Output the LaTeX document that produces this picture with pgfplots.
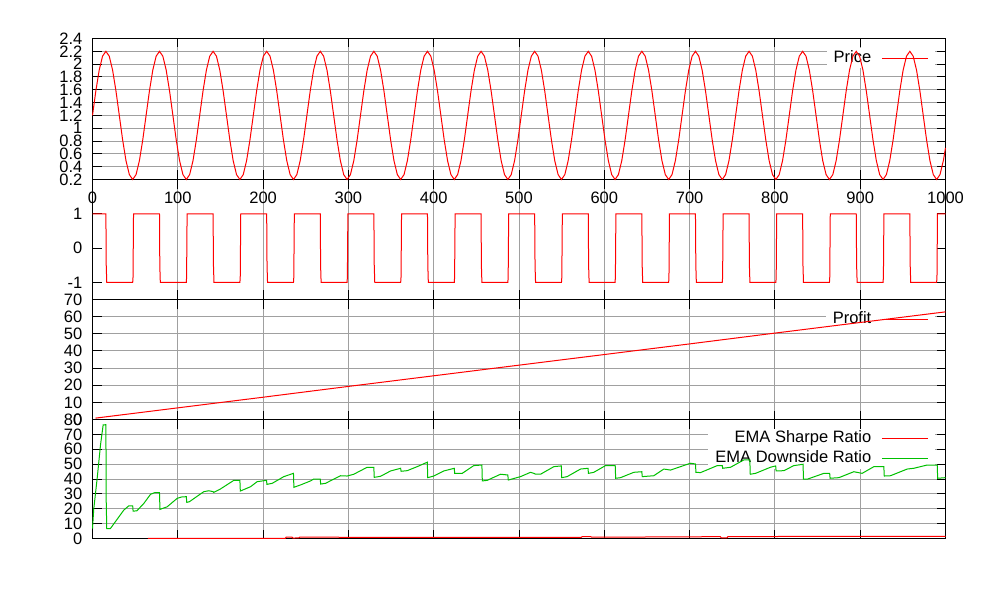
\documentclass[border=0pt]{standalone}
\usepackage{fontspec}
\setmainfont{Liberation Sans}
\usepackage{pgfplots}
\usepackage{pgfplotstable}
\pgfplotsset{compat=1.18}
\pagecolor{white}
\definecolor{gpred}{HTML}{FF0000}
\definecolor{gpgreen}{HTML}{00C000}
\definecolor{gpgrid}{HTML}{A0A0A0}
\newcommand{\gpfont}{\fontsize{16.5}{19}\selectfont}

% price: one row per sample, 16 samples per cycle
\pgfplotstableread{
x y
0 1.2
3.93 1.583
7.85 1.907
11.78 2.124
15.71 2.2
19.63 2.124
23.56 1.907
27.49 1.583
31.42 1.2
35.34 0.817
39.27 0.493
43.20 0.276
47.12 0.2
51.05 0.276
54.98 0.493
58.90 0.817
62.83 1.2
66.76 1.583
70.69 1.907
74.61 2.124
78.54 2.2
82.47 2.124
86.39 1.907
90.32 1.583
94.25 1.2
98.17 0.817
102.10 0.493
106.03 0.276
109.96 0.2
113.88 0.276
117.81 0.493
121.74 0.817
125.66 1.2
129.59 1.583
133.52 1.907
137.44 2.124
141.37 2.2
145.30 2.124
149.23 1.907
153.15 1.583
157.08 1.2
161.01 0.817
164.93 0.493
168.86 0.276
172.79 0.2
176.71 0.276
180.64 0.493
184.57 0.817
188.50 1.2
192.42 1.583
196.35 1.907
200.28 2.124
204.20 2.2
208.13 2.124
212.06 1.907
215.98 1.583
219.91 1.2
223.84 0.817
227.77 0.493
231.69 0.276
235.62 0.2
239.55 0.276
243.47 0.493
247.40 0.817
251.33 1.2
255.25 1.583
259.18 1.907
263.11 2.124
267.04 2.2
270.96 2.124
274.89 1.907
278.82 1.583
282.74 1.2
286.67 0.817
290.60 0.493
294.52 0.276
298.45 0.2
302.38 0.276
306.31 0.493
310.23 0.817
314.16 1.2
318.09 1.583
322.01 1.907
325.94 2.124
329.87 2.2
333.79 2.124
337.72 1.907
341.65 1.583
345.58 1.2
349.50 0.817
353.43 0.493
357.36 0.276
361.28 0.2
365.21 0.276
369.14 0.493
373.06 0.817
376.99 1.2
380.92 1.583
384.85 1.907
388.77 2.124
392.70 2.2
396.63 2.124
400.55 1.907
404.48 1.583
408.41 1.2
412.33 0.817
416.26 0.493
420.19 0.276
424.12 0.2
428.04 0.276
431.97 0.493
435.90 0.817
439.82 1.2
443.75 1.583
447.68 1.907
451.60 2.124
455.53 2.2
459.46 2.124
463.38 1.907
467.31 1.583
471.24 1.2
475.17 0.817
479.09 0.493
483.02 0.276
486.95 0.2
490.87 0.276
494.80 0.493
498.73 0.817
502.65 1.2
506.58 1.583
510.51 1.907
514.44 2.124
518.36 2.2
522.29 2.124
526.22 1.907
530.14 1.583
534.07 1.2
538.00 0.817
541.92 0.493
545.85 0.276
549.78 0.2
553.71 0.276
557.63 0.493
561.56 0.817
565.49 1.2
569.41 1.583
573.34 1.907
577.27 2.124
581.19 2.2
585.12 2.124
589.05 1.907
592.98 1.583
596.90 1.2
600.83 0.817
604.76 0.493
608.68 0.276
612.61 0.2
616.54 0.276
620.46 0.493
624.39 0.817
628.32 1.2
632.25 1.583
636.17 1.907
640.10 2.124
644.03 2.2
647.95 2.124
651.88 1.907
655.81 1.583
659.73 1.2
663.66 0.817
667.59 0.493
671.52 0.276
675.44 0.2
679.37 0.276
683.30 0.493
687.22 0.817
691.15 1.2
695.08 1.583
699.00 1.907
702.93 2.124
706.86 2.2
710.79 2.124
714.71 1.907
718.64 1.583
722.57 1.2
726.49 0.817
730.42 0.493
734.35 0.276
738.27 0.2
742.20 0.276
746.13 0.493
750.06 0.817
753.98 1.2
757.91 1.583
761.84 1.907
765.76 2.124
769.69 2.2
773.62 2.124
777.54 1.907
781.47 1.583
785.40 1.2
789.33 0.817
793.25 0.493
797.18 0.276
801.11 0.2
805.03 0.276
808.96 0.493
812.89 0.817
816.81 1.2
820.74 1.583
824.67 1.907
828.60 2.124
832.52 2.2
836.45 2.124
840.38 1.907
844.30 1.583
848.23 1.2
852.16 0.817
856.08 0.493
860.01 0.276
863.94 0.2
867.87 0.276
871.79 0.493
875.72 0.817
879.65 1.2
883.57 1.583
887.50 1.907
891.43 2.124
895.35 2.2
899.28 2.124
903.21 1.907
907.13 1.583
911.06 1.2
914.99 0.817
918.92 0.493
922.84 0.276
926.77 0.2
930.70 0.276
934.62 0.493
938.55 0.817
942.48 1.2
946.41 1.583
950.33 1.907
954.26 2.124
958.19 2.2
962.11 2.124
966.04 1.907
969.97 1.583
973.89 1.2
977.82 0.817
981.75 0.493
985.68 0.276
989.60 0.2
993.53 0.276
997.46 0.493
1000 0.694
}\price

% position signal: +1 while price rises, -1 while it falls
\pgfplotstableread{
x y
0 1
15.71 1
16.1 -0.5
16.7 -1
47.12 -1
47.5 -0.85
48.1 1
78.54 1
78.9 -0.5
79.5 -1
109.96 -1
110.3 -0.85
110.9 1
141.37 1
141.8 -0.5
142.4 -1
172.79 -1
173.2 -0.85
173.8 1
204.20 1
204.6 -0.5
205.2 -1
235.62 -1
236.0 -0.85
236.6 1
267.04 1
267.4 -0.5
268.0 -1
298.45 -1
298.8 -0.85
299.4 1
329.87 1
330.3 -0.5
330.9 -1
361.28 -1
361.7 -0.85
362.3 1
392.70 1
393.1 -0.5
393.7 -1
424.12 -1
424.5 -0.85
425.1 1
455.53 1
455.9 -0.5
456.5 -1
486.95 -1
487.3 -0.85
487.9 1
518.36 1
518.8 -0.5
519.4 -1
549.78 -1
550.2 -0.85
550.8 1
581.19 1
581.6 -0.5
582.2 -1
612.61 -1
613.0 -0.85
613.6 1
644.03 1
644.4 -0.5
645.0 -1
675.44 -1
675.8 -0.85
676.4 1
706.86 1
707.3 -0.5
707.9 -1
738.27 -1
738.7 -0.85
739.3 1
769.69 1
770.1 -0.5
770.7 -1
801.11 -1
801.5 -0.85
802.1 1
832.52 1
832.9 -0.5
833.5 -1
863.94 -1
864.3 -0.85
864.9 1
895.35 1
895.8 -0.5
896.4 -1
926.77 -1
927.2 -0.85
927.8 1
958.19 1
958.6 -0.5
959.2 -1
989.60 -1
990.0 -0.85
990.6 1
1000 1
}\signal

\pgfplotstableread{
x y
3.5 0.8
100 6.8
200 13.0
300 19.3
400 25.5
500 31.7
600 37.9
700 44.1
800 50.4
900 56.6
1000 62.8
}\profit

\pgfplotstableread{
x y
64.9 0.1
226 0.1
227 0.9
234 0.9
235 0.3
242 0.4
243 0.9
400 0.7
573 0.7
574 1.3
584 1.3
585 0.9
700 1.1
736 1.3
737 0.5
744 0.5
745 1.3
1000 1.5
}\sharpe

\pgfplotstableread{
x y
0 6.7
1.5 20
5.5 40.5
9.4 63
12.5 76.4
15.7 76.5
16.1 24.7
16.7 6.7
21 6.7
36.7 19.1
42.6 22
47.1 22
47.6 18.4
52 18.6
60.2 23.6
68 29.7
72.7 30.8
78.5 30.8
79.1 19.6
87.5 21.3
99.3 27
105 28
110 28.1
110.5 24.3
113.5 24.7
130.5 31.5
136.4 32.1
141.4 31.5
142.2 31.0
150 33.3
165.7 39.1
172.8 39.1
173.3 31.9
185.2 34.8
193 38.2
204 39.1
204.5 36.4
210.7 37.1
224.3 41.6
235.6 43.8
236.1 34.4
243.8 36
255.6 38.7
259.4 40
267 40
267.5 36.6
273.2 37.1
290.7 42.2
298.5 42
306.3 43.2
322 47.9
329.8 47.9
330.3 41.1
337.6 41.8
349.4 45.4
361.2 47.2
361.8 45.2
368.9 45.6
380.6 48.3
392.5 51.3
393 40.9
400.1 42
411.8 45.4
424.1 47.2
424.6 43.8
433.4 43.8
447 49
456.5 49.4
457 38.7
462.7 39.1
478.3 43.2
486.9 42.7
487.4 39.3
501.8 41.6
513.5 44.5
518.4 43.6
519 43.2
525.2 43.2
540.8 48.3
549.6 48.8
550.1 40.9
556.5 41.6
572.1 46.7
580.9 47.2
581.4 43.8
587.7 44.5
601.4 49
612.8 49
613.3 40.5
619 40.9
634.6 44.5
644 44.9
644.5 41.6
658 42.2
669.8 46.7
677.6 46
701 50.6
706.9 50.1
707.4 44.5
712.8 44.3
732.4 49
738.3 49
738.8 47.2
748 47.9
763.5 52.8
770.6 52.8
771.1 43.2
777.3 43.8
794.8 47.9
800.9 48.8
801.4 45.4
810.5 45.6
822.2 49
833 49.9
833.5 40
838.6 40
857.4 43.8
864.2 43.8
864.7 40.5
875 40.9
892.5 44.9
902.3 43.8
916 48.3
927.7 48.3
928.2 42
935.5 42.2
955.1 46.7
962.8 47.2
978.5 49.4
990.3 49.4
990.8 40.5
1000 40.9
}\downside

\pgfplotsset{
  set layers=standard,
  gp/.style={
    scale only axis, width=853pt, anchor=south west,
    xmin=0, xmax=1000, xtick={0,100,...,1000},
    xmajorgrids, major grid style={gpgrid, line width=1pt},
    axis line style={black, line width=1pt},
    every tick/.style={black, line width=1pt},
    major tick length=9pt, tick align=inside, xtick pos=both, ytick pos=both,
    /pgf/number format/assume math mode=true,
    /pgf/number format/1000 sep={},
    tick label style={font=\gpfont},
    yticklabel style={inner sep=0pt, xshift=-10pt},
    xticklabel style={inner sep=0pt, yshift=-12.5pt},
    legend plot pos=right, legend cell align=right,
    legend image code/.code={\draw[#1] (0pt,0pt) -- (46pt,0pt);},
    legend style={anchor=north east, draw=none, fill=white,
      inner xsep=7pt, inner ysep=0pt, column sep=10pt, font=\gpfont,
      nodes={inner xsep=0pt, inner ysep=2pt, text height=12pt, text depth=4pt}},
    % curves go over the legend box, as gnuplot draws them
    every axis plot/.append style={line width=1pt, no markers, on layer=axis foreground},
  },
}

\begin{document}
\begin{tikzpicture}
\path (0pt,0pt) rectangle (1001pt,-601pt);

% price
\begin{axis}[gp, at={(92.5pt,-179.5pt)}, height=141pt,
  ymin=0.2, ymax=2.4, ytick={0.2,0.4,0.6,0.8,1,1.2,1.4,1.6,1.8,2,2.2,2.4},
  ymajorgrids,
  legend style={at={(0.9883,0.9333)}}]
\addplot[gpred] table {\price};
\addlegendentry{Price}
\end{axis}

% signal
\begin{axis}[gp, at={(92.5pt,-299.5pt)}, height=120pt,
  ymin=-1.5, ymax=2, ytick={-1,0,1}, xticklabels={}]
\addplot[gpred] table {\signal};
\end{axis}

% profit
\begin{axis}[gp, at={(92.5pt,-419.5pt)}, height=120pt,
  ymin=0, ymax=70, ytick={0,10,...,70}, ymajorgrids, xticklabels={},
  legend style={at={(0.9883,0.918)}}]
\addplot[gpred] table {\profit};
\addlegendentry{Profit}
\end{axis}

% ratios
\begin{axis}[gp, at={(92.5pt,-538.5pt)}, height=119pt,
  ymin=0, ymax=80, ytick={0,10,...,80}, ymajorgrids, xticklabels={},
  legend style={at={(0.9883,0.9224)}}]
\addplot[gpred] table {\sharpe};
\addlegendentry{EMA Sharpe Ratio}
\addplot[gpgreen] table {\downside};
\addlegendentry{EMA Downside Ratio}
\end{axis}
\end{tikzpicture}
\end{document}
